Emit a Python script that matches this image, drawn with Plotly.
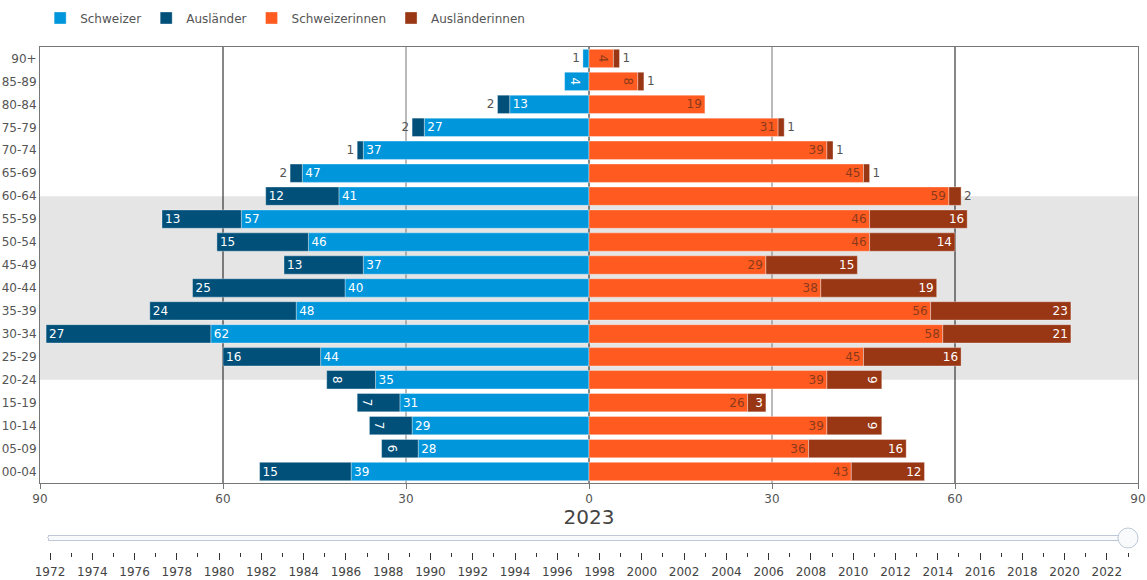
import plotly.graph_objects as go

ages = ["00-04", "05-09", "10-14", "15-19", "20-24", "25-29", "30-34", "35-39",
        "40-44", "45-49", "50-54", "55-59", "60-64", "65-69", "70-74", "75-79",
        "80-84", "85-89", "90+"]

schweizer = [39, 28, 29, 31, 35, 44, 62, 48, 40, 37, 46, 57, 41, 47, 37, 27, 13, 4, 1]
auslaender = [15, 6, 7, 7, 8, 16, 27, 24, 25, 13, 15, 13, 12, 2, 1, 2, 2, 0, 0]
schweizerinnen = [43, 36, 39, 26, 39, 45, 58, 56, 38, 29, 46, 46, 59, 45, 39, 31, 19, 8, 4]
auslaenderinnen = [12, 16, 9, 3, 9, 16, 21, 23, 19, 15, 14, 16, 2, 1, 1, 1, 0, 1, 1]

years = list(range(1972, 2024))
current_year = 2023

tick_vals = [-90, -60, -30, 0, 30, 60, 90]
tick_text = ["90", "60", "30", "0", "30", "60", "90"]

FONT = "DejaVu Sans"


def bar(name, values, color, textcolor, negative):
    xs = [(-v if negative else v) if v else None for v in values]
    txt = [str(v) if v else "" for v in values]
    return go.Bar(
        name=name, y=ages, x=xs, orientation="h",
        marker=dict(color=color, line=dict(color="rgba(255,255,255,0.35)", width=1)),
        text=txt, textposition="auto", insidetextanchor="end",
        insidetextfont=dict(color=textcolor, size=12, family=FONT),
        outsidetextfont=dict(color="#555555", size=12, family=FONT),
        cliponaxis=False, hoverinfo="skip",
    )


fig = go.Figure()
fig.add_trace(bar("Schweizer", schweizer, "#0096DC", "#ffffff", True))
fig.add_trace(bar("Ausländer", auslaender, "#00507A", "#ffffff", True))
fig.add_trace(bar("Schweizerinnen", schweizerinnen, "#FF5A1F", "#8a3a1c", False))
fig.add_trace(bar("Ausländerinnen", auslaenderinnen, "#993614", "#ffffff", False))

shapes = [dict(type="rect", xref="paper", yref="y", x0=0, x1=1,
               y0=ages.index("20-24"), y1=ages.index("60-64"),
               fillcolor="#e5e5e5", line=dict(width=0), layer="below")]
for v in tick_vals[1:-1]:
    col = "#777777" if abs(v) == 30 else "#111111"
    shapes.append(dict(type="line", xref="x", yref="paper", x0=v, x1=v, y0=0, y1=1,
                       line=dict(color=col, width=1), layer="below"))

steps = [dict(label=str(y), method="skip", args=[None]) for y in years]

fig.update_layout(
    width=1147, height=580,
    barmode="relative", bargap=0.2,
    plot_bgcolor="white", paper_bgcolor="white",
    font=dict(family=FONT, size=12, color="#555555"),
    margin=dict(l=40, r=9, t=47, b=97, autoexpand=False),
    uniformtext=dict(minsize=12, mode="show"),
    shapes=shapes,
    legend=dict(orientation="h", xref="container", yref="container",
                x=0.035, y=0.969, yanchor="middle", xanchor="left",
                font=dict(size=12, color="#555555")),
    xaxis=dict(range=[-90, 90], tickvals=tick_vals, ticktext=tick_text,
               showgrid=False, zeroline=False, showline=True, mirror=True,
               linecolor="#777777", ticks="outside", ticklen=5, tickcolor="#777777",
               fixedrange=True, automargin=False),
    yaxis=dict(type="category", showgrid=False, zeroline=False, showline=True, mirror=True,
               linecolor="#777777", ticks="", fixedrange=True, automargin=False,
               categoryorder="array", categoryarray=ages),
    sliders=[dict(active=years.index(current_year), steps=steps,
                  x=0, len=1, y=-0.0157, yanchor="top", xanchor="left",
                  pad=dict(t=8, b=0, l=0, r=0),
                  currentvalue=dict(visible=True, xanchor="center", prefix="",
                                    font=dict(size=20, color="#444444"), offset=6),
                  font=dict(size=12, color="#444444"))],
)

fig.write_html("out.html", post_script="document.body.style.margin='0';",
               config={"displayModeBar": False})
